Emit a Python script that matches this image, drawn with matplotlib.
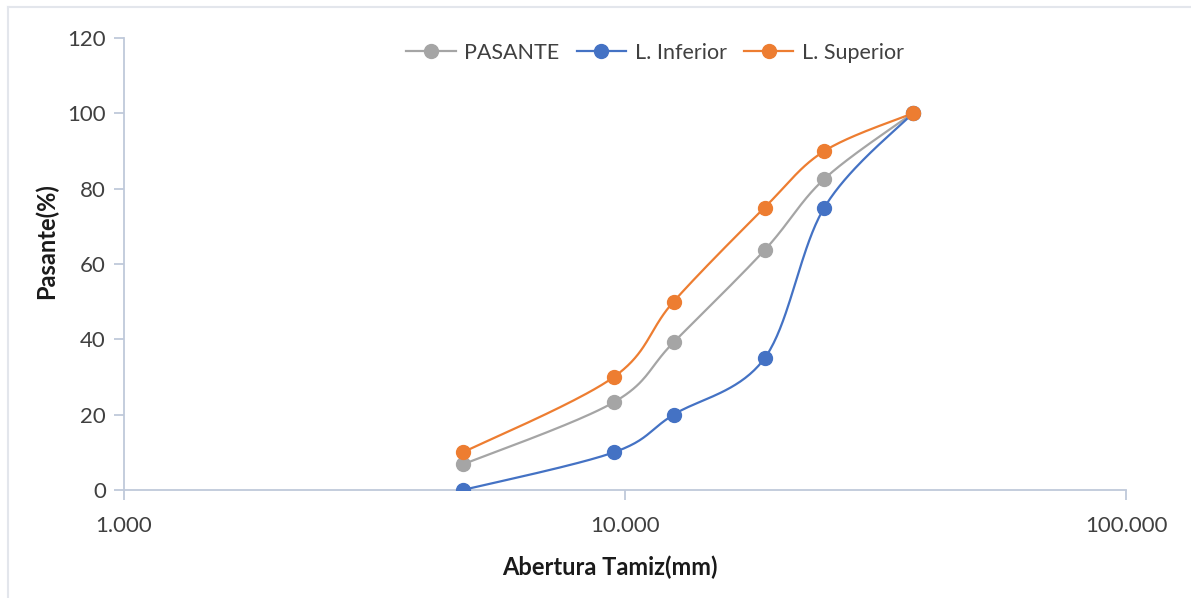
import numpy as np
import matplotlib
matplotlib.use("Agg")
import matplotlib.pyplot as plt
from matplotlib.lines import Line2D
from matplotlib.ticker import FixedLocator, FixedFormatter

plt.rcParams['font.family'] = ['Lato', 'DejaVu Sans']

# sieve openings (mm) and % passing
abertura = [4.75, 9.5, 12.5, 19.0, 25.0, 37.5]
pasante = [6.8, 23.3, 39.2, 63.7, 82.6, 100.0]
l_inferior = [0, 10, 20, 35, 75, 100]
l_superior = [10, 30, 50, 75, 90, 100]

series_names = ['PASANTE', 'L. Inferior', 'L. Superior']
series_colors = ['#A5A5A5', '#4472C4', '#ED7D31']

x_ticks = [1, 10, 100]
x_ticklabels = ['1.000', '10.000', '100.000']
y_ticks = [0, 20, 40, 60, 80, 100, 120]

W, H = 1191, 598
fig = plt.figure(figsize=(W / 100, H / 100), dpi=100)
ax = fig.add_axes([124 / W, 1 - 490 / H, (1126 - 124) / W, (490 - 38) / H])

# thin frame on left and top of the chart area
fig.add_artist(Line2D([8 / W, 8 / W], [0, 1 - 7 / H], color='#E3E6EC', lw=1.5))
fig.add_artist(Line2D([8 / W, 1], [1 - 7 / H, 1 - 7 / H], color='#E3E6EC', lw=1.5))

ax.set_xscale('log')
ax.set_xlim(1, 100)
ax.set_ylim(0, 120)

axw = (1126 - 124)
axh = (490 - 38)


def smooth(xs, ys, n=40):
    # catmull-rom style smoothing in screen space (like a spreadsheet smoothed line)
    px = np.log10(xs) / 2 * axw
    py = np.array(ys, float) / 120 * axh
    P = np.column_stack([px, py])
    out = []
    for i in range(len(P) - 1):
        p0 = P[i - 1] if i > 0 else P[i]
        p1 = P[i]
        p2 = P[i + 1]
        p3 = P[i + 2] if i + 2 < len(P) else P[i + 1]
        c1 = p1 + (p2 - p0) / 6
        c2 = p2 - (p3 - p1) / 6
        t = np.linspace(0, 1, n)[:, None]
        seg = ((1 - t) ** 3 * p1 + 3 * (1 - t) ** 2 * t * c1
               + 3 * (1 - t) * t ** 2 * c2 + t ** 3 * p2)
        out.append(seg if i == 0 else seg[1:])
    out = np.vstack(out)
    return 10 ** (out[:, 0] / axw * 2), out[:, 1] / axh * 120


for ys, name, col in zip([pasante, l_inferior, l_superior], series_names, series_colors):
    sx, sy = smooth(abertura, ys)
    ax.plot(sx, sy, color=col, lw=1.6, zorder=3)
    ax.plot(abertura, ys, 'o', color=col, ms=10, zorder=4)

handles = [Line2D([], [], color=c, lw=1.6, marker='o', ms=10) for c in series_colors]
ax.legend(handles, series_names, loc='center', bbox_to_anchor=(0.53, 0.967),
          ncol=3, frameon=False, fontsize=15.5, handlelength=2.3,
          columnspacing=0.8, handletextpad=0.4, labelcolor='#404040')

ax.xaxis.set_major_locator(FixedLocator(x_ticks))
ax.xaxis.set_major_formatter(FixedFormatter(x_ticklabels))
ax.xaxis.set_minor_locator(FixedLocator([]))
ax.set_yticks(y_ticks)

spine_col = '#BFC9DA'
for s in ['top', 'right']:
    ax.spines[s].set_visible(False)
for s in ['left', 'bottom']:
    ax.spines[s].set_color(spine_col)
    ax.spines[s].set_linewidth(1.3)
ax.tick_params(axis='both', colors=spine_col, length=7, width=1.3,
               labelcolor='#404040', labelsize=16)
ax.tick_params(axis='x', pad=12)
ax.tick_params(axis='y', pad=6)

ax.set_xlabel('Abertura Tamiz(mm)', fontsize=17, fontweight='bold', color='#1a1a1a')
ax.set_ylabel('Pasante(%)', fontsize=17, fontweight='bold', color='#1a1a1a')
ax.xaxis.set_label_coords(0.485, -0.17)
ax.yaxis.set_label_coords(-0.077, 0.551)
ax.xaxis.label.set_va('center')
ax.yaxis.label.set_va('center')

fig.savefig('out.png', dpi=100)
